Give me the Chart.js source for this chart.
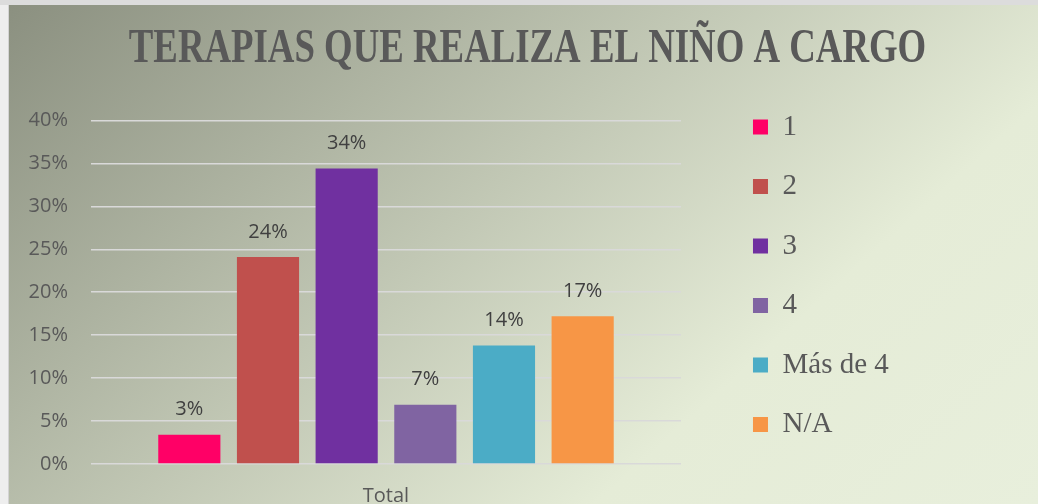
<!DOCTYPE html>
<html lang="es">
<head>
<meta charset="utf-8">
<title>Terapias que realiza el niño a cargo</title>
<script src="https://cdn.jsdelivr.net/npm/chart.js@4.4.1/dist/chart.umd.min.js"></script>
<style>
  html, body { margin: 0; padding: 0; }
  body {
    width: 1038px;
    height: 504px;
    overflow: hidden;
    position: relative;
    background: linear-gradient(#dcdcdc 0 5px, #eeeeee 5px);
  }
  #chart-box {
    position: absolute;
    left: 9px;
    top: 5px;
    width: 1029px;
    height: 499px;
    box-shadow: -1px 0 0 #d3d3d3;
    background: linear-gradient(138deg, #8b9080 0%, #e5ecd7 72%, #e8efdc 100%);
  }
  canvas { display: block; }
</style>
</head>
<body>
<div id="chart-box">
  <canvas id="therapyChart" width="1029" height="499"></canvas>
</div>

<script>
// Chart data
const titleText = 'TERAPIAS QUE REALIZA EL NIÑO A CARGO';
const categories = ['Total'];
const seriesNames = ['1', '2', '3', '4', 'Más de 4', 'N/A'];
const seriesValues = [3.4, 24.1, 34.4, 6.9, 13.8, 17.2];
const seriesColors = ['#FF0066', '#C0504D', '#7030A0', '#8064A2', '#4BACC6', '#F79646'];
const yMin = 0;
const yMax = 40;
const yStep = 5;

const axisFont = { family: '"Open Sans", sans-serif', size: 20 };

// Percent labels above each bar
const barValueLabels = {
  id: 'barValueLabels',
  afterDatasetsDraw(chart) {
    const ctx = chart.ctx;
    ctx.save();
    ctx.font = '20px "Open Sans", sans-serif';
    ctx.fillStyle = '#404040';
    ctx.textAlign = 'center';
    ctx.textBaseline = 'middle';
    chart.data.datasets.forEach((ds, i) => {
      chart.getDatasetMeta(i).data.forEach((bar, j) => {
        ctx.fillText(Math.round(ds.data[j]) + '%', bar.x, bar.y - 25);
      });
    });
    ctx.restore();
  }
};

// The title in the original is drawn tall and narrow, so stretch it vertically.
// The built-in title stays invisible and only reserves the space.
const stretchedTitle = {
  id: 'stretchedTitle',
  afterDraw(chart) {
    const ctx = chart.ctx;
    ctx.save();
    ctx.translate(chart.width / 2 + 4, 45);
    ctx.scale(1, 1.3);
    ctx.font = 'bold 36.8px "Liberation Serif", serif';
    ctx.fillStyle = '#595959';
    ctx.textAlign = 'center';
    ctx.textBaseline = 'middle';
    ctx.fillText(titleText, 0, 0);
    ctx.restore();
  }
};

new Chart(document.getElementById('therapyChart'), {
  type: 'bar',
  data: {
    labels: categories,
    datasets: seriesNames.map((name, i) => ({
      label: name,
      data: [seriesValues[i]],
      backgroundColor: seriesColors[i],
      borderWidth: 0,
      categoryPercentage: 0.8,
      barPercentage: 0.79
    }))
  },
  options: {
    responsive: false,
    animation: false,
    layout: { padding: { left: 0, right: 139.2, top: 0, bottom: 0 } },
    scales: {
      x: {
        grid: { display: false, drawTicks: false },
        border: { display: false },
        ticks: { color: '#595959', font: axisFont, padding: 20 },
        afterFit(scale) { scale.height = 40; }
      },
      y: {
        min: yMin,
        max: yMax,
        ticks: {
          stepSize: yStep,
          color: '#595959',
          font: axisFont,
          padding: 23,
          callback: v => v + '%'
        },
        grid: { color: '#d9d9d9', lineWidth: 1.5, drawTicks: false },
        border: { display: false },
        afterFit(scale) { scale.width = 82; }
      },
      // empty axis, only keeps a gap between the bars and the legend
      gap: {
        position: 'right',
        grid: { display: false },
        border: { display: false },
        ticks: { display: false },
        afterFit(scale) { scale.width = 41.5; }
      }
    },
    plugins: {
      title: {
        display: true,
        text: titleText,
        color: 'rgba(0,0,0,0)',
        font: { family: '"Liberation Serif", serif', size: 36.5, weight: 'bold' },
        padding: { top: 21, bottom: 50.6 }
      },
      legend: {
        position: 'right',
        align: 'start',
        maxWidth: 220,
        title: { display: true, text: '', padding: { top: 0, bottom: 62.6 } },
        labels: {
          boxWidth: 15,
          boxHeight: 15,
          padding: 30.5,
          color: '#595959',
          font: { family: '"Liberation Serif", serif', size: 29 }
        }
      },
      tooltip: { enabled: false }
    }
  },
  plugins: [barValueLabels, stretchedTitle]
});
</script>
</body>
</html>
